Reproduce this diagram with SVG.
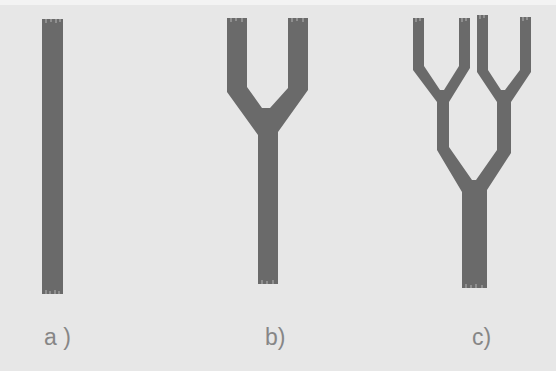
<svg xmlns="http://www.w3.org/2000/svg" width="556" height="371" viewBox="0 0 556 371">
  <defs>
    <style>
      .bg { fill: #e7e7e7; }
      .fiber { fill: #6a6a6a; }
      .fray { stroke: #b4b4b4; stroke-width: 1; fill: none; }
      .lbl { font-family: "Liberation Sans", Arial, sans-serif; font-size: 23px; fill: #868686; }
    </style>
  </defs>
  <rect class="bg" x="0" y="0" width="556" height="371"/>
  <rect x="0" y="0" width="556" height="5" fill="#f3f3f3"/>

  <g id="a">
    <rect class="fiber" x="42" y="19" width="21" height="275"/>
    <path class="fray" d="M46 19v4M51 19v3M56 19v4M60 19v3M46 294v-4M50 294v-3M55 294v-4M59 294v-3"/>
    <text class="lbl" x="44" y="345">a )</text>
  </g>

  <g id="b">
    <polygon class="fiber" points="227,18 227,92 258,135 258,284 278,284 278,132 308,90 308,18 288,18 288,88 270,108 262,108 247,87 247,18"/>
    <path class="fray" d="M231 18v4M236 18v3M242 18v4M292 18v4M297 18v3M303 18v4M262 284v-4M267 284v-3M273 284v-4"/>
    <text class="lbl" x="265" y="345">b)</text>
  </g>

  <g id="c">
    <polygon class="fiber" points="413,18 413,70 437,102 437,150 462,192 462,288 487,288 487,190 511,153 511,102 531,72 531,17 520,17 520,70 505,90 501,90 488,70 488,15 477,15 477,72 497,102 497,150 476,180 472,180 449,147 449,102 470,68 470,18 459,18 459,66 444,90 440,90 424,66 424,18"/>
    <path class="fray" d="M416 18v4M420 18v3M462 18v4M466 18v3M480 15v4M484 15v3M523 17v4M527 17v3M466 288v-4M471 288v-3M476 288v-4M482 288v-3"/>
    <text class="lbl" x="472" y="345">c)</text>
  </g>
</svg>
